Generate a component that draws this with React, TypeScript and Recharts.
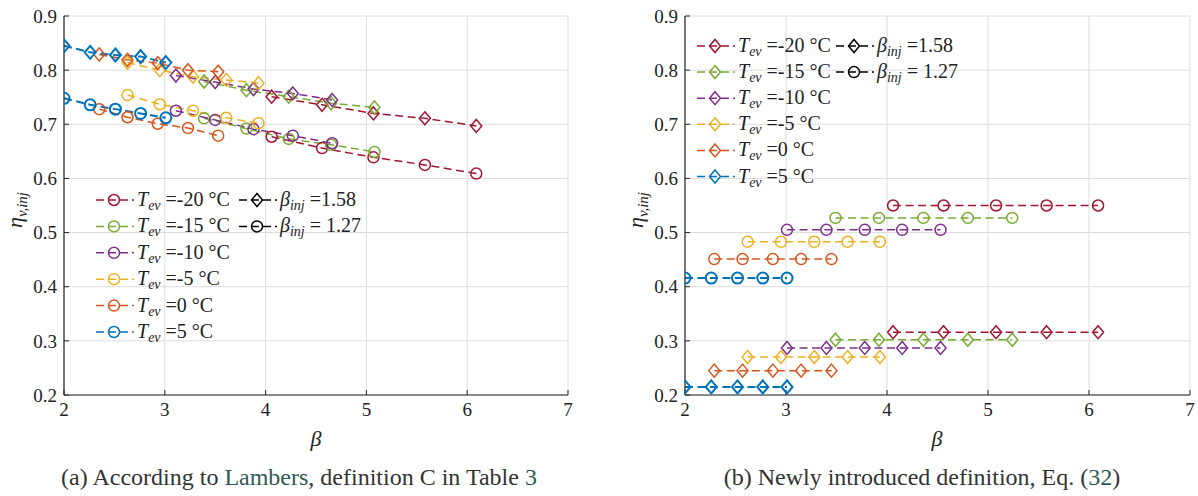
import React from 'react';
import { LineChart, Line, XAxis, YAxis, CartesianGrid } from 'recharts';

// ---------- categories ----------
const tempLabels = ['-20', '-15', '-10', '-5', '0', '5'];
const seriesColors = ['#A2142F', '#77AC30', '#7E2F8E', '#EDB120', '#D95319', '#0072BD'];
const xTicks = [2, 3, 4, 5, 6, 7];
const yTicks = [0.2, 0.3, 0.4, 0.5, 0.6, 0.7, 0.8, 0.9];

// ---------- (a) According to Lambers ----------
const betaA_m20 = [4.06, 4.56, 5.07, 5.58, 6.09];
const betaA_m15 = [3.39, 3.81, 4.23, 4.65, 5.08];
const betaA_m10 = [3.11, 3.5, 3.88, 4.27, 4.66];
const betaA_m5 = [2.63, 2.95, 3.28, 3.61, 3.93];
const betaA_0 = [2.35, 2.63, 2.93, 3.23, 3.53];
const betaA_p5 = [2.0, 2.26, 2.51, 2.76, 3.01];

const etaA158_m20 = [0.751, 0.736, 0.72, 0.711, 0.697];
const etaA158_m15 = [0.779, 0.763, 0.751, 0.739, 0.731];
const etaA158_m10 = [0.79, 0.778, 0.765, 0.757, 0.745];
const etaA158_m5 = [0.814, 0.8, 0.788, 0.782, 0.776];
const etaA158_0 = [0.829, 0.819, 0.813, 0.8, 0.797];
const etaA158_p5 = [0.845, 0.833, 0.828, 0.825, 0.814];

const etaA127_m20 = [0.677, 0.656, 0.639, 0.625, 0.609];
const etaA127_m15 = [0.711, 0.692, 0.673, 0.662, 0.649];
const etaA127_m10 = [0.725, 0.708, 0.691, 0.679, 0.665];
const etaA127_m5 = [0.754, 0.737, 0.725, 0.712, 0.702];
const etaA127_0 = [0.728, 0.713, 0.701, 0.693, 0.679];
const etaA127_p5 = [0.748, 0.736, 0.728, 0.72, 0.712];

// ---------- (b) Newly introduced definition ----------
const betaB_m20 = [4.06, 4.56, 5.08, 5.58, 6.09];
const betaB_m15 = [3.49, 3.92, 4.36, 4.8, 5.24];
const betaB_m10 = [3.01, 3.4, 3.78, 4.15, 4.53];
const betaB_m5 = [2.62, 2.95, 3.28, 3.61, 3.93];
const betaB_0 = [2.29, 2.57, 2.87, 3.15, 3.45];
const betaB_p5 = [2.0, 2.26, 2.52, 2.77, 3.01];

const etaB158_m20 = [0.316, 0.316, 0.316, 0.316, 0.316];
const etaB158_m15 = [0.302, 0.302, 0.302, 0.302, 0.302];
const etaB158_m10 = [0.287, 0.287, 0.287, 0.287, 0.287];
const etaB158_m5 = [0.27, 0.27, 0.27, 0.27, 0.27];
const etaB158_0 = [0.245, 0.245, 0.245, 0.245, 0.245];
const etaB158_p5 = [0.215, 0.215, 0.215, 0.215, 0.215];

const etaB127_m20 = [0.55, 0.55, 0.55, 0.55, 0.55];
const etaB127_m15 = [0.527, 0.527, 0.527, 0.527, 0.527];
const etaB127_m10 = [0.505, 0.505, 0.505, 0.505, 0.505];
const etaB127_m5 = [0.483, 0.483, 0.483, 0.483, 0.483];
const etaB127_0 = [0.451, 0.451, 0.451, 0.451, 0.451];
const etaB127_p5 = [0.416, 0.416, 0.416, 0.416, 0.416];

const betaA = [betaA_m20, betaA_m15, betaA_m10, betaA_m5, betaA_0, betaA_p5];
const etaA158 = [etaA158_m20, etaA158_m15, etaA158_m10, etaA158_m5, etaA158_0, etaA158_p5];
const etaA127 = [etaA127_m20, etaA127_m15, etaA127_m10, etaA127_m5, etaA127_0, etaA127_p5];
const betaB = [betaB_m20, betaB_m15, betaB_m10, betaB_m5, betaB_0, betaB_p5];
const etaB158 = [etaB158_m20, etaB158_m15, etaB158_m10, etaB158_m5, etaB158_0, etaB158_p5];
const etaB127 = [etaB127_m20, etaB127_m15, etaB127_m10, etaB127_m5, etaB127_0, etaB127_p5];

const toRows = (b: number[], e: number[]) => b.map((x, i) => ({ beta: x, eta: e[i] }));

const FONT = "'Liberation Serif', serif";
const AXIS = '#262626';

const circleDot = (color: string, sw: number) => (p: any) => (
  <circle key={`c-${p.index}`} cx={p.cx} cy={p.cy} r={5.5} fill="none" stroke={color} strokeWidth={sw} />
);
const diamondDot = (color: string, sw: number) => (p: any) => (
  <path
    key={`d-${p.index}`}
    d={`M${p.cx},${p.cy - 6.5} L${p.cx + 5.5},${p.cy} L${p.cx},${p.cy + 6.5} L${p.cx - 5.5},${p.cy} Z`}
    fill="none"
    stroke={color}
    strokeWidth={sw}
  />
);

function Panel(props: {
  betas: number[][];
  eta158: number[][];
  eta127: number[][];
  width: number;
  marginLeft: number;
  marginRight: number;
}) {
  const { betas, eta158, eta127, width, marginLeft, marginRight } = props;
  return (
    <LineChart
      width={width}
      height={496}
      margin={{ top: 16, left: marginLeft, right: marginRight, bottom: 71 }}
      style={{ fontFamily: FONT }}
    >
      <CartesianGrid stroke="#dcdcdc" strokeWidth={1} />
      <XAxis
        type="number"
        dataKey="beta"
        domain={[2, 7]}
        ticks={xTicks}
        interval={0}
        height={30}
        allowDataOverflow
        axisLine={{ stroke: AXIS, strokeWidth: 1.2 }}
        tickLine={{ stroke: AXIS }}
        tickSize={-5}
        tickMargin={13}
        tick={{ fill: '#222', fontSize: 19, fontFamily: FONT }}
      />
      <YAxis
        type="number"
        domain={[0.2, 0.9]}
        ticks={yTicks}
        interval={0}
        width={50}
        allowDataOverflow
        axisLine={{ stroke: AXIS, strokeWidth: 1.2 }}
        tickLine={{ stroke: AXIS }}
        tickSize={-5}
        tickMargin={12}
        tickFormatter={(v: number) => v.toFixed(1)}
        tick={{ fill: '#222', fontSize: 19, fontFamily: FONT }}
      />
      {betas.map((b, i) => (
        <Line
          key={`l158-${i}`}
          data={toRows(b, eta158[i])}
          dataKey="eta"
          stroke={seriesColors[i]}
          strokeWidth={i === 5 ? 2 : 1.5}
          strokeDasharray="8 4.5"
          dot={diamondDot(seriesColors[i], i === 5 ? 2 : 1.5)}
          activeDot={false}
          isAnimationActive={false}
        />
      ))}
      {betas.map((b, i) => (
        <Line
          key={`l127-${i}`}
          data={toRows(b, eta127[i])}
          dataKey="eta"
          stroke={seriesColors[i]}
          strokeWidth={i === 5 ? 2 : 1.5}
          strokeDasharray="8 4.5"
          dot={circleDot(seriesColors[i], i === 5 ? 2 : 1.5)}
          activeDot={false}
          isAnimationActive={false}
        />
      ))}
    </LineChart>
  );
}

function LegendEntry(props: { mx: number; y: number; color: string; marker: 'circle' | 'diamond'; children: React.ReactNode }) {
  const { mx, y, color, marker, children } = props;
  return (
    <g>
      <line x1={mx - 18} y1={y} x2={mx + 20} y2={y} stroke={color} strokeWidth={1.5} strokeDasharray="8 4" />
      {marker === 'circle' ? (
        <circle cx={mx} cy={y} r={5.5} fill="none" stroke={color} strokeWidth={1.5} />
      ) : (
        <path d={`M${mx},${y - 6.5} L${mx + 5.5},${y} L${mx},${y + 6.5} L${mx - 5.5},${y} Z`} fill="none" stroke={color} strokeWidth={1.5} />
      )}
      <text x={mx + 23} y={y + 6} fontSize={20} fontFamily={FONT} fill="#222">
        {children}
      </text>
    </g>
  );
}

const TevText = (t: string) => (
  <>
    <tspan fontStyle="italic">T</tspan>
    <tspan fontStyle="italic" fontSize={14} dy={4}>ev</tspan>
    <tspan dy={-4}>{` =${t} °C`}</tspan>
  </>
);
const BetaText = (v: string) => (
  <>
    <tspan fontStyle="italic">β</tspan>
    <tspan fontStyle="italic" fontSize={14} dy={4}>inj</tspan>
    <tspan dy={-4}>{v}</tspan>
  </>
);

function Legend(props: { mx1: number; mx2: number; y0: number; dy: number; marker: 'circle' | 'diamond' }) {
  const { mx1, mx2, y0, dy, marker } = props;
  return (
    <g>
      {tempLabels.map((t, i) => (
        <LegendEntry key={t} mx={mx1} y={y0 + i * dy} color={seriesColors[i]} marker={marker}>
          {TevText(t)}
        </LegendEntry>
      ))}
      <LegendEntry mx={mx2} y={y0} color="#000" marker="diamond">
        {BetaText(' =1.58')}
      </LegendEntry>
      <LegendEntry mx={mx2} y={y0 + dy} color="#000" marker="circle">
        {BetaText(' = 1.27')}
      </LegendEntry>
    </g>
  );
}

const YLabel = (x: number, y: number) => (
  <text transform={`translate(${x},${y}) rotate(-90)`} textAnchor="middle" fontSize={22} fontFamily={FONT} fill="#222">
    <tspan fontStyle="italic">η</tspan>
    <tspan fontStyle="italic" fontSize={15} dy={5}>v,inj</tspan>
  </text>
);

export default function App() {
  return (
    <div style={{ position: 'absolute', left: 0, top: 0, width: 1198, height: 496, background: '#fff', overflow: 'hidden' }}>
      <div style={{ position: 'absolute', left: 0, top: 0 }}>
        <Panel betas={betaA} eta158={etaA158} eta127={etaA127} width={600} marginLeft={14} marginRight={32} />
      </div>
      <div style={{ position: 'absolute', left: 600, top: 0 }}>
        <Panel betas={betaB} eta158={etaB158} eta127={etaB127} width={598} marginLeft={35} marginRight={8} />
      </div>
      <svg width={1198} height={496} style={{ position: 'absolute', left: 0, top: 0, pointerEvents: 'none' }}>
        <Legend mx1={114} mx2={257} y0={200} dy={26.4} marker="circle" />
        <Legend mx1={715} mx2={854} y0={46} dy={26.1} marker="diamond" />
        {YLabel(22, 210)}
        {YLabel(643, 210)}
        <text x={316} y={446} textAnchor="middle" fontSize={22} fontStyle="italic" fontFamily={FONT} fill="#222">β</text>
        <text x={937} y={446} textAnchor="middle" fontSize={22} fontStyle="italic" fontFamily={FONT} fill="#222">β</text>
        <text x={299} y={485} textAnchor="middle" fontSize={24} fontFamily={FONT} fill="#333">
          (a) According to <tspan fill="#2d5b57">Lambers</tspan>, definition C in Table <tspan fill="#2d5b57">3</tspan>
        </text>
        <text x={922} y={485} textAnchor="middle" fontSize={24} fontFamily={FONT} fill="#333">
          (b) Newly introduced definition, Eq. (<tspan fill="#2d5b57">32</tspan>)
        </text>
      </svg>
    </div>
  );
}
